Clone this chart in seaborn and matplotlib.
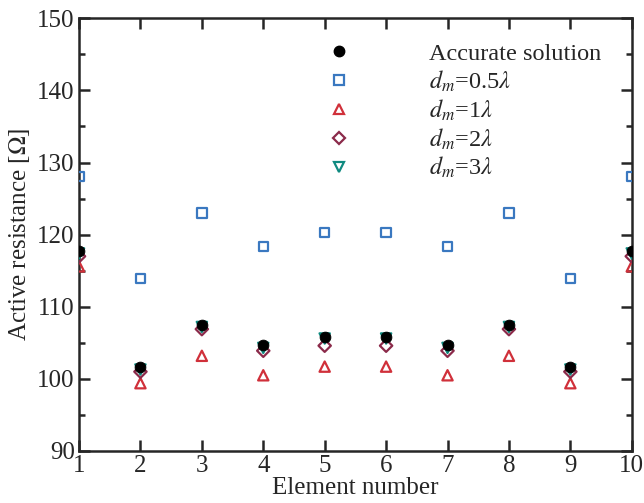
import pandas as pd
import numpy as np
import matplotlib
matplotlib.use("Agg")
import matplotlib.pyplot as plt
from matplotlib.ticker import MultipleLocator
import seaborn as sns

# element numbers and active resistance values
elements = [1, 2, 3, 4, 5, 6, 7, 8, 9, 10]
accurate = [117.7, 101.7, 107.5, 104.7, 105.8, 105.8, 104.7, 107.5, 101.7, 117.7]
dm_05 = [128.1, 113.9, 123.0, 118.4, 120.3, 120.3, 118.4, 123.0, 113.9, 128.1]
dm_1 = [115.6, 99.4, 103.2, 100.5, 101.7, 101.7, 100.5, 103.2, 99.4, 115.6]
dm_2 = [117.0, 101.0, 106.9, 103.9, 104.6, 104.6, 103.9, 106.9, 101.0, 117.0]
dm_3 = [117.4, 101.3, 107.2, 104.3, 105.6, 105.6, 104.3, 107.2, 101.3, 117.4]

sns.set_style("ticks")
plt.rcParams["font.family"] = ["Liberation Serif", "DejaVu Serif"]
plt.rcParams["mathtext.fontset"] = "stix"

fig = plt.figure(figsize=(6.44, 5.03), dpi=100)
ax = fig.add_axes([0.1227, 0.1034, 0.8583, 0.8602])

# open markers first, black dots on top
sns.scatterplot(x=elements, y=dm_05, marker="s", s=45, facecolor="none",
                edgecolor="#3a78c0", linewidth=1.6, ax=ax, zorder=3)
sns.scatterplot(x=elements, y=dm_1, marker="^", s=55, facecolor="none",
                edgecolor="#d0303a", linewidth=1.6, ax=ax, zorder=3)
sns.scatterplot(x=elements, y=dm_2, marker="D", s=40, facecolor="none",
                edgecolor="#8b2a4a", linewidth=1.6, ax=ax, zorder=4)
sns.scatterplot(x=elements, y=dm_3, marker="v", s=55, facecolor="none",
                edgecolor="#0f8a80", linewidth=1.6, ax=ax, zorder=5)
sns.scatterplot(x=elements, y=accurate, marker="o", s=60, color="black",
                edgecolor="black", ax=ax, zorder=6)

ax.set_xlim(1, 10)
ax.set_ylim(90, 150)
ax.xaxis.set_major_locator(MultipleLocator(1))
ax.yaxis.set_major_locator(MultipleLocator(10))
ax.yaxis.set_minor_locator(MultipleLocator(5))
ax.tick_params(which="both", direction="in", top=True, right=True,
               labelsize=18, width=1.8, pad=3)
ax.tick_params(which="major", length=8)
ax.tick_params(which="minor", length=4)
for sp in ax.spines.values():
    sp.set_linewidth(1.8)

ax.set_xlabel("Element number", fontsize=18, labelpad=0)
ax.set_ylabel(r"Active resistance [$\Omega$]", fontsize=18, labelpad=4)

handles = [
    plt.Line2D([], [], ls="none", marker="o", ms=7.5, color="black"),
    plt.Line2D([], [], ls="none", marker="s", ms=6.5, mfc="none", mec="#3a78c0", mew=1.6),
    plt.Line2D([], [], ls="none", marker="^", ms=7.5, mfc="none", mec="#d0303a", mew=1.6),
    plt.Line2D([], [], ls="none", marker="D", ms=6, mfc="none", mec="#8b2a4a", mew=1.6),
    plt.Line2D([], [], ls="none", marker="v", ms=7.5, mfc="none", mec="#0f8a80", mew=1.6),
]
labels = ["Accurate solution", r"$d_m$=0.5$\lambda$", r"$d_m$=1$\lambda$",
          r"$d_m$=2$\lambda$", r"$d_m$=3$\lambda$"]
ax.legend(handles, labels, loc="upper right", frameon=False, fontsize=17.5,
          handletextpad=2.7, labelspacing=0.15, borderaxespad=0.3,
          bbox_to_anchor=(0.975, 0.983))

fig.savefig("out.png", dpi=100)
